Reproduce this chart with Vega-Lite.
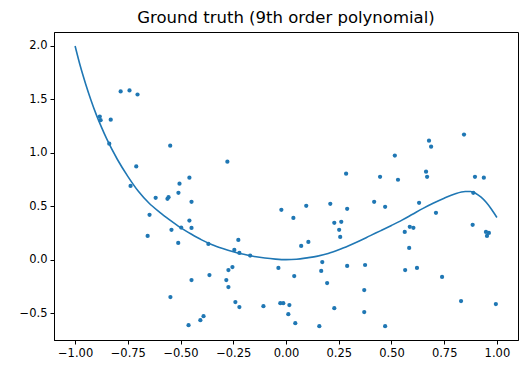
{
  "$schema": "https://vega.github.io/schema/vega-lite/v6.json",
  "width": 464,
  "height": 308,
  "autosize": {"type": "none"},
  "padding": {"left": 54, "top": 32, "right": 10, "bottom": 34},
  "background": "white",
  "title": {"text": "Ground truth (9th order polynomial)", "font": "DejaVu Sans", "fontSize": 16.5, "fontWeight": "normal", "color": "black", "offset": 6},
  "config": {
    "view": {"stroke": "black", "strokeWidth": 1},
    "axis": {"grid": false, "domainColor": "black", "domainWidth": 1, "tickColor": "black", "tickSize": 4, "tickWidth": 1, "labelFont": "DejaVu Sans", "labelFontSize": 11.5, "labelColor": "black", "labelPadding": 3, "title": null}
  },
  "datasets": {
    "pts": [
      {"x": -0.784, "y": 1.575}, {"x": -0.742, "y": 1.584}, {"x": -0.704, "y": 1.546}, {"x": -0.883, "y": 1.34},
      {"x": -0.879, "y": 1.305}, {"x": -0.831, "y": 1.31}, {"x": -0.838, "y": 1.086}, {"x": -0.549, "y": 1.067},
      {"x": -0.71, "y": 0.873}, {"x": -0.737, "y": 0.69}, {"x": -0.278, "y": 0.917}, {"x": -0.458, "y": 0.767},
      {"x": -0.505, "y": 0.711}, {"x": 0.516, "y": 0.974}, {"x": 0.285, "y": 0.805}, {"x": 0.446, "y": 0.776},
      {"x": 0.531, "y": 0.748}, {"x": 0.844, "y": 1.171}, {"x": 0.678, "y": 1.114}, {"x": 0.688, "y": 1.058},
      {"x": 0.664, "y": 0.823}, {"x": 0.669, "y": 0.776}, {"x": 0.896, "y": 0.776}, {"x": 0.938, "y": 0.767},
      {"x": -0.618, "y": 0.579}, {"x": -0.562, "y": 0.57}, {"x": -0.557, "y": 0.585}, {"x": -0.647, "y": 0.42},
      {"x": -0.543, "y": 0.279}, {"x": -0.656, "y": 0.222}, {"x": -0.548, "y": -0.35}, {"x": -0.51, "y": 0.626},
      {"x": -0.448, "y": 0.542}, {"x": -0.458, "y": 0.366}, {"x": -0.448, "y": 0.297}, {"x": -0.497, "y": 0.3},
      {"x": -0.511, "y": 0.157}, {"x": -0.368, "y": 0.147}, {"x": -0.226, "y": 0.185}, {"x": -0.245, "y": 0.091},
      {"x": -0.221, "y": 0.063}, {"x": -0.17, "y": 0.038}, {"x": -0.022, "y": 0.467}, {"x": -0.036, "y": -0.078},
      {"x": -0.254, "y": -0.069}, {"x": -0.273, "y": -0.097}, {"x": -0.363, "y": -0.144}, {"x": -0.448, "y": -0.191},
      {"x": -0.283, "y": -0.191}, {"x": -0.273, "y": -0.256}, {"x": -0.24, "y": -0.397}, {"x": -0.221, "y": -0.444},
      {"x": -0.107, "y": -0.435}, {"x": -0.027, "y": -0.407}, {"x": -0.013, "y": -0.407}, {"x": 0.016, "y": -0.425},
      {"x": 0.011, "y": -0.51}, {"x": -0.391, "y": -0.529}, {"x": -0.406, "y": -0.566}, {"x": -0.462, "y": -0.613},
      {"x": 0.035, "y": 0.391}, {"x": 0.096, "y": 0.504}, {"x": 0.21, "y": 0.523}, {"x": 0.29, "y": 0.476},
      {"x": 0.418, "y": 0.542}, {"x": 0.47, "y": 0.495}, {"x": 0.229, "y": 0.345}, {"x": 0.262, "y": 0.354},
      {"x": 0.252, "y": 0.279}, {"x": 0.257, "y": 0.213}, {"x": 0.072, "y": 0.129}, {"x": 0.106, "y": 0.166},
      {"x": 0.563, "y": 0.26}, {"x": 0.172, "y": -0.022}, {"x": 0.167, "y": -0.106}, {"x": 0.29, "y": -0.059},
      {"x": 0.375, "y": -0.05}, {"x": 0.039, "y": -0.153}, {"x": 0.195, "y": -0.219}, {"x": 0.371, "y": -0.285},
      {"x": 0.565, "y": -0.097}, {"x": 0.044, "y": -0.595}, {"x": 0.158, "y": -0.623}, {"x": 0.229, "y": -0.454},
      {"x": 0.371, "y": -0.491}, {"x": 0.47, "y": -0.623}, {"x": 0.631, "y": 0.532}, {"x": 0.711, "y": 0.438},
      {"x": 0.888, "y": 0.626}, {"x": 0.885, "y": 0.326}, {"x": 0.587, "y": 0.307}, {"x": 0.604, "y": 0.298},
      {"x": 0.584, "y": 0.11}, {"x": 0.948, "y": 0.26}, {"x": 0.962, "y": 0.25}, {"x": 0.953, "y": 0.222},
      {"x": 0.621, "y": -0.078}, {"x": 0.74, "y": -0.162}, {"x": 0.83, "y": -0.388}, {"x": 0.995, "y": -0.416}
    ],
    "curve": [
      {"x": -1.0, "y": 2.0}, {"x": -0.975, "y": 1.81}, {"x": -0.95, "y": 1.645}, {"x": -0.925, "y": 1.495},
      {"x": -0.9, "y": 1.36}, {"x": -0.875, "y": 1.24}, {"x": -0.85, "y": 1.13}, {"x": -0.8, "y": 0.94},
      {"x": -0.75, "y": 0.78}, {"x": -0.7, "y": 0.64}, {"x": -0.65, "y": 0.53}, {"x": -0.6, "y": 0.445},
      {"x": -0.55, "y": 0.37}, {"x": -0.5, "y": 0.3}, {"x": -0.45, "y": 0.24}, {"x": -0.4, "y": 0.185},
      {"x": -0.35, "y": 0.14}, {"x": -0.3, "y": 0.105}, {"x": -0.25, "y": 0.075}, {"x": -0.2, "y": 0.05},
      {"x": -0.15, "y": 0.03}, {"x": -0.1, "y": 0.015}, {"x": -0.05, "y": 0.005}, {"x": 0.0, "y": 0.0},
      {"x": 0.05, "y": 0.004}, {"x": 0.1, "y": 0.017}, {"x": 0.15, "y": 0.033}, {"x": 0.2, "y": 0.057},
      {"x": 0.25, "y": 0.092}, {"x": 0.3, "y": 0.133}, {"x": 0.35, "y": 0.177}, {"x": 0.4, "y": 0.225},
      {"x": 0.45, "y": 0.272}, {"x": 0.5, "y": 0.32}, {"x": 0.55, "y": 0.37}, {"x": 0.6, "y": 0.425},
      {"x": 0.65, "y": 0.48}, {"x": 0.7, "y": 0.53}, {"x": 0.75, "y": 0.575}, {"x": 0.8, "y": 0.615},
      {"x": 0.85, "y": 0.638}, {"x": 0.875, "y": 0.638}, {"x": 0.9, "y": 0.62}, {"x": 0.925, "y": 0.585},
      {"x": 0.95, "y": 0.535}, {"x": 0.975, "y": 0.47}, {"x": 1.0, "y": 0.395}
    ]
  },
  "layer": [
    {
      "data": {"name": "pts"},
      "mark": {"type": "point", "filled": true, "opacity": 1, "color": "#1f77b4", "size": 18},
      "encoding": {
        "x": {"field": "x", "type": "quantitative", "scale": {"domain": [-1.1, 1.1], "nice": false, "zero": false},
              "axis": {"values": [-1, -0.75, -0.5, -0.25, 0, 0.25, 0.5, 0.75, 1], "format": ".2f"}},
        "y": {"field": "y", "type": "quantitative", "scale": {"domain": [-0.752, 2.131], "nice": false, "zero": false},
              "axis": {"values": [-0.5, 0, 0.5, 1, 1.5, 2], "format": ".1f"}}
      }
    },
    {
      "data": {"name": "curve"},
      "mark": {"type": "line", "color": "#1f77b4", "strokeWidth": 1.6, "interpolate": "monotone"},
      "encoding": {
        "x": {"field": "x", "type": "quantitative"},
        "y": {"field": "y", "type": "quantitative"}
      }
    }
  ]
}
